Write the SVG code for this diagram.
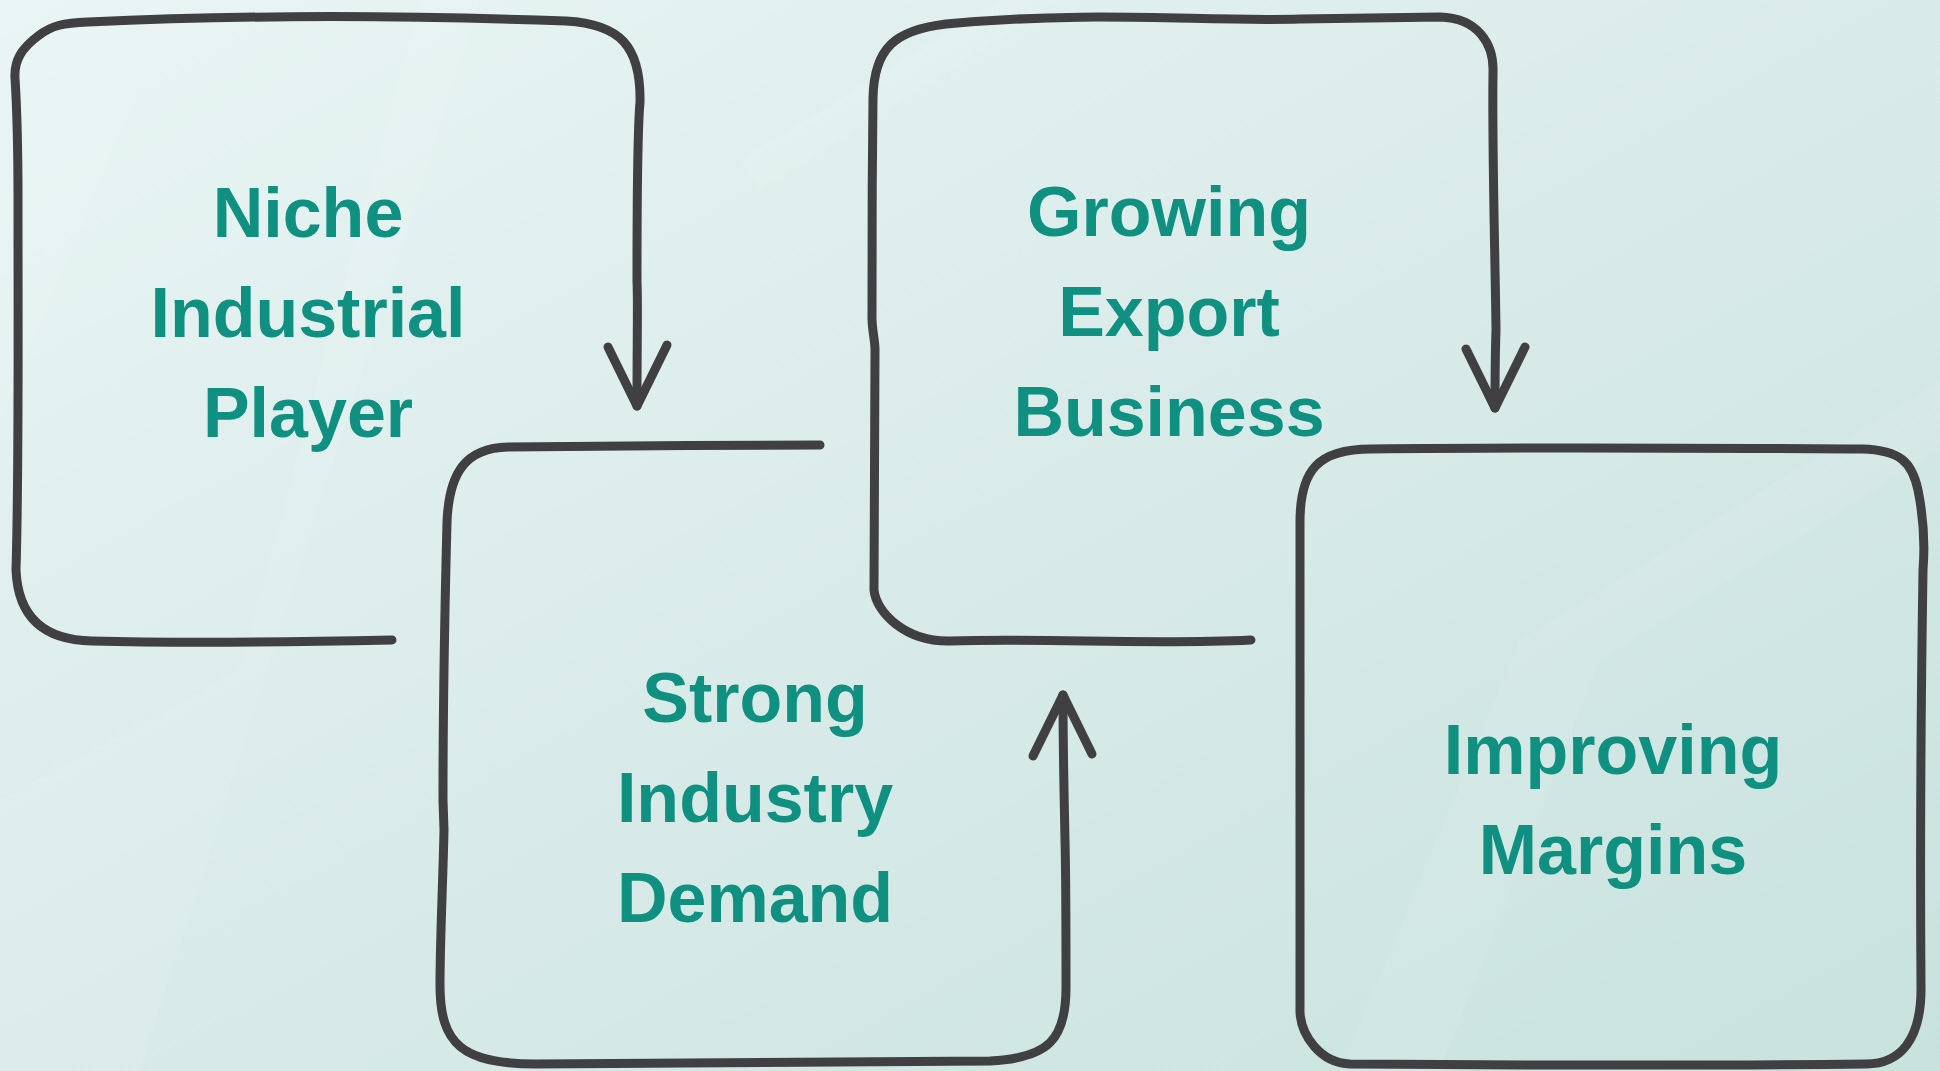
<svg xmlns="http://www.w3.org/2000/svg" width="1940" height="1071" viewBox="0 0 1940 1071">
  <defs>
    <linearGradient id="bg" x1="0" y1="0" x2="1" y2="1">
      <stop offset="0" stop-color="#e9f5f4"/>
      <stop offset="0.5" stop-color="#d9ebe9"/>
      <stop offset="1" stop-color="#c8e2de"/>
    </linearGradient>
    <marker id="head" markerUnits="userSpaceOnUse" orient="auto" refX="0" refY="0" markerWidth="140" markerHeight="140" viewBox="-70 -70 140 140" overflow="visible">
      <path d="M-61,-30 L0,0 L-59,29" fill="none" stroke="#404042" stroke-width="9" stroke-linecap="round" stroke-linejoin="round"/>
    </marker>
    <style>
      .ink { fill: none; stroke: #404042; stroke-width: 9; stroke-linecap: round; stroke-linejoin: round; }
      .arrow { marker-end: url(#head); }
      .label { font-family: "Liberation Sans", Arial, sans-serif; font-weight: bold; font-size: 70px; fill: #0f9080; text-anchor: middle; }
      .sheen { fill: #ffffff; opacity: 0.08; }
    </style>
  </defs>

  <!-- backdrop with soft diagonal sheen -->
  <rect width="1940" height="1071" fill="url(#bg)"/>
  <polygon class="sheen" points="0,0 175,0 0,420"/>
  <polygon class="sheen" points="0,800 240,670 420,0 480,0 140,1071 0,1071"/>
  <polygon class="sheen" points="740,160 1000,0 1060,0 760,190"/>
  <polygon class="sheen" points="1340,1071 1520,640 1940,380 1940,450 1600,660 1440,1071"/>

  <!-- bent arrows that outline the first three stages -->
  <g id="connectors">
    <path class="ink arrow" d="M392,640 C300,642 200,644 92,641 C45,640 18,618 16,570 C19,470 18,330 18,200 C18,150 17,110 15,78 C14,60 22,48 38,36 C52,25 64,23 88,22 C240,15 400,15 566,21 C620,24 641,46 640,102 C638,125 637,180 637,278 L637,282 C638,300 637,330 637,406"/>
    <path class="ink arrow" d="M820,445 C720,445 600,446 508,447 C466,448 449,472 447,522 C445,600 443,700 443,800 L444,830 C443,880 440,940 440,985 C440,1044 462,1064 536,1064 C700,1064 850,1063 990,1061 C1048,1058 1066,1040 1066,988 C1066,930 1066,880 1065,840 C1064,790 1063,750 1063,695"/>
    <path class="ink arrow" d="M1251,640 C1150,645 1050,638 950,641 C905,642 876,612 874,590 C874,500 874,420 875,350 C875,340 872,330 872,318 C872,250 872,170 873,98 C874,48 895,30 946,24 C1100,10 1200,22 1300,19 L1440,17 C1478,18 1494,44 1493,72 C1492,150 1495,250 1496,330 C1495,360 1495,380 1495,408"/>
  </g>

  <g id="niche-industrial-player">
    <text class="label" x="308" y="237">Niche</text>
    <text class="label" x="308" y="337">Industrial</text>
    <text class="label" x="308" y="437">Player</text>
  </g>

  <g id="strong-industry-demand">
    <text class="label" x="755" y="722">Strong</text>
    <text class="label" x="755" y="822">Industry</text>
    <text class="label" x="755" y="922">Demand</text>
  </g>

  <g id="growing-export-business">
    <text class="label" x="1169" y="236">Growing</text>
    <text class="label" x="1169" y="336">Export</text>
    <text class="label" x="1169" y="436">Business</text>
  </g>

  <g id="improving-margins">
    <path class="ink" d="M1371,449 C1550,447 1700,448 1862,449 C1900,450 1912,462 1918,490 C1924,520 1925,545 1923,570 C1921,700 1920,850 1921,985 C1922,1040 1900,1064 1866,1064 C1700,1066 1500,1065 1350,1064 C1320,1063 1301,1035 1300,1012 C1300,850 1300,700 1300,522 C1300,470 1318,449 1371,449 Z"/>
    <text class="label" x="1613" y="774">Improving</text>
    <text class="label" x="1613" y="874">Margins</text>
  </g>
</svg>
